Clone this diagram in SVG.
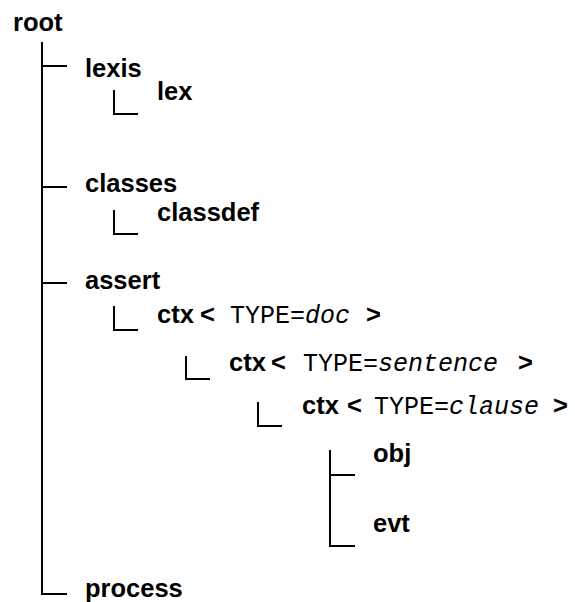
<svg xmlns="http://www.w3.org/2000/svg" width="575" height="602" viewBox="0 0 575 602">
<style>
.n{font-family:"Liberation Sans",Arial,sans-serif;font-weight:bold;font-size:25.5px;fill:#000}
.m{font-family:"Liberation Mono","Courier New",monospace;font-weight:normal;font-size:25px;fill:#000}
.i{font-style:italic}
.c{fill:none;stroke:#000;stroke-width:2}
</style>
<rect width="575" height="602" fill="#fff"/>
<g id="connectors">
<path class="c" d="M42 42V594H67"/>
<path class="c" d="M42 66H67"/>
<path class="c" d="M42 187H67"/>
<path class="c" d="M42 283H67"/>
<path class="c" d="M114 90V114H138"/>
<path class="c" d="M114 210V234H138"/>
<path class="c" d="M114 306V330H138"/>
<path class="c" d="M186 356V379H210"/>
<path class="c" d="M258 402V426H282"/>
<path class="c" d="M330 450V546H355M330 475H355"/>
</g>
<g id="root"><text class="n" x="13" y="31">root</text></g>
<g id="lexis"><text class="n" x="85" y="77">lexis</text></g>
<g id="lex"><text class="n" x="157" y="100">lex</text></g>
<g id="classes"><text class="n" x="85" y="192">classes</text></g>
<g id="classdef"><text class="n" x="157" y="221">classdef</text></g>
<g id="assert"><text class="n" x="85" y="289">assert</text></g>
<g id="ctx-doc"><text class="n" x="157" y="323">ctx<tspan x="200">&lt;</tspan><tspan class="m" x="230">TYPE=</tspan><tspan class="m i">doc</tspan><tspan x="366">&gt;</tspan></text></g>
<g id="ctx-sentence"><text class="n" x="229" y="371">ctx<tspan x="271">&lt;</tspan><tspan class="m" x="303">TYPE=</tspan><tspan class="m i">sentence</tspan><tspan x="518">&gt;</tspan></text></g>
<g id="ctx-clause"><text class="n" x="302" y="414">ctx<tspan x="347">&lt;</tspan><tspan class="m" x="374">TYPE=</tspan><tspan class="m i">clause</tspan><tspan x="553">&gt;</tspan></text></g>
<g id="obj"><text class="n" x="373" y="462">obj</text></g>
<g id="evt"><text class="n" x="373" y="532">evt</text></g>
<g id="process"><text class="n" x="85" y="597">process</text></g>
</svg>
